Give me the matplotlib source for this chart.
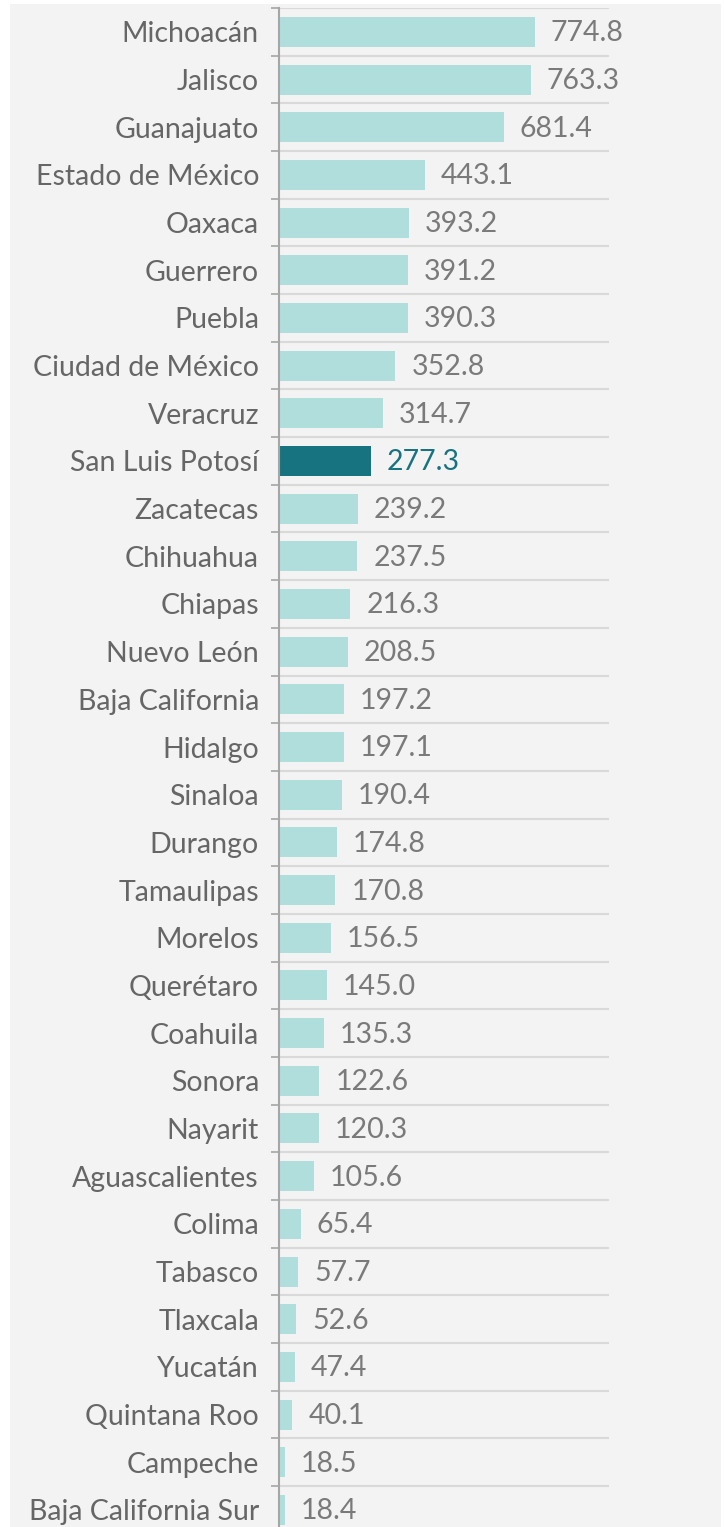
import matplotlib
matplotlib.use('Agg')
from matplotlib import pyplot as plt
from matplotlib.patches import Rectangle
import numpy as np

estados = ['Michoacán', 'Jalisco', 'Guanajuato', 'Estado de México', 'Oaxaca',
           'Guerrero', 'Puebla', 'Ciudad de México', 'Veracruz', 'San Luis Potosí',
           'Zacatecas', 'Chihuahua', 'Chiapas', 'Nuevo León', 'Baja California',
           'Hidalgo', 'Sinaloa', 'Durango', 'Tamaulipas', 'Morelos', 'Querétaro',
           'Coahuila', 'Sonora', 'Nayarit', 'Aguascalientes', 'Colima', 'Tabasco',
           'Tlaxcala', 'Yucatán', 'Quintana Roo', 'Campeche', 'Baja California Sur']
valores = [774.8, 763.3, 681.4, 443.1, 393.2, 391.2, 390.3, 352.8, 314.7, 277.3,
           239.2, 237.5, 216.3, 208.5, 197.2, 197.1, 190.4, 174.8, 170.8, 156.5,
           145.0, 135.3, 122.6, 120.3, 105.6, 65.4, 57.7, 52.6, 47.4, 40.1, 18.5, 18.4]
destacado = 'San Luis Potosí'

claro = '#b0dedd'
oscuro = '#17737f'
gris_txt = '#666666'

plt.rcParams['font.family'] = ['Lato', 'DejaVu Sans']

W, H = 724, 1527
fig = plt.figure(figsize=(W / 100, H / 100), dpi=100)
fig.patch.set_facecolor('white')
fig.patches.append(Rectangle((10 / W, 0), 711 / W, 1 - 4 / H, transform=fig.transFigure,
                             facecolor='#f3f3f3', edgecolor='none', zorder=-10))

n = len(estados)
paso = 47.68
top = 8
alto = n * paso
ax = fig.add_axes([279 / W, 1 - (top + alto) / H, 330 / W, alto / H])
ax.set_facecolor('none')

y = np.arange(n)
colores = [oscuro if e == destacado else claro for e in estados]
ax.barh(y, valores, height=0.63, color=colores, zorder=2)
ax.set_ylim(n - 0.5, -0.5)
ax.set_xlim(0, 1000)

for i, v in enumerate(valores):
    c = oscuro if estados[i] == destacado else '#7a7a7a'
    ax.annotate(f'{v:.1f}', (v, i + 0.03), xytext=(11.5, 0), textcoords='offset points',
                va='center', ha='left', fontsize=20.5,
                color=c, annotation_clip=False)

ax.set_yticks(y)
ax.set_yticklabels(estados, fontsize=20.5, color=gris_txt)
ax.tick_params(axis='y', which='major', length=0, pad=14.4)
ax.set_yticks(np.arange(n + 1) - 0.5, minor=True)
ax.tick_params(axis='y', which='minor', length=6, color='#a6a6a6', width=1.2)
ax.grid(axis='y', which='minor', color='#d9d9d9', linewidth=1.5, zorder=1)
ax.set_xticks([])
for s in ['top', 'right', 'bottom']:
    ax.spines[s].set_visible(False)
ax.spines['left'].set_color('#a6a6a6')
ax.spines['left'].set_linewidth(1.5)

fig.savefig('out.png', dpi=100)
